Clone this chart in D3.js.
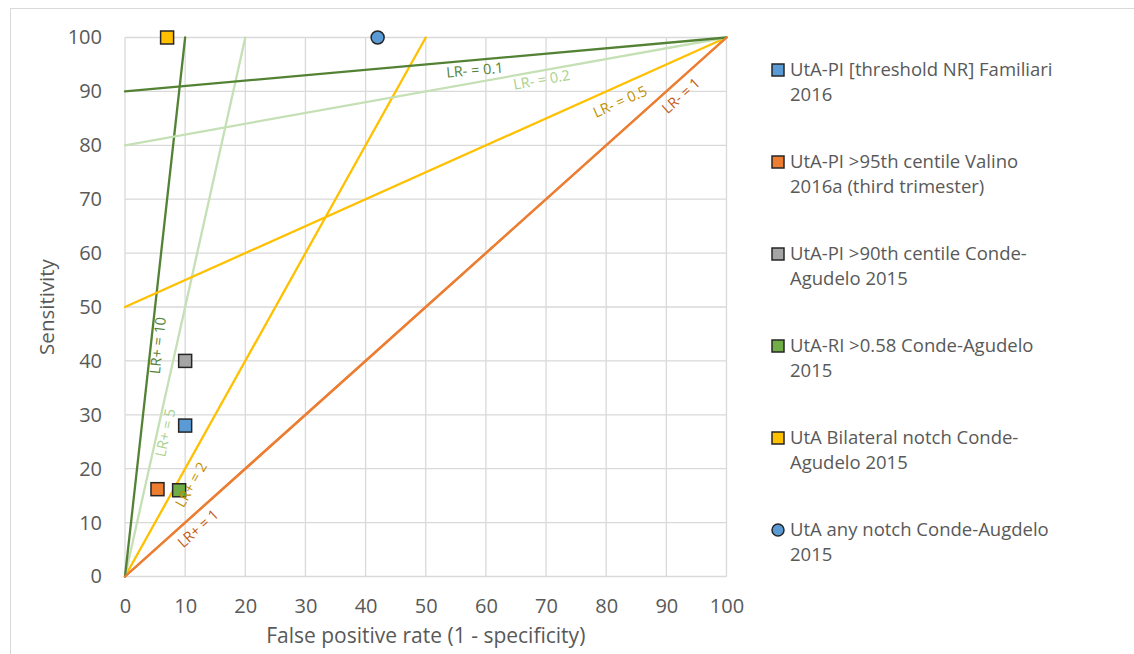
<!DOCTYPE html>
<html>
<head>
<meta charset="utf-8">
<script src="https://cdn.jsdelivr.net/npm/d3@7/dist/d3.min.js"></script>
<style>
  html, body { margin: 0; padding: 0; background: #fff; }
  svg { display: block; }
  text { font-family: "Open Sans", Lato, sans-serif; fill: #595959; }
</style>
</head>
<body>
<svg id="chart" width="1134" height="654"></svg>
<script>
// Axis ticks
const xTicks = [0, 10, 20, 30, 40, 50, 60, 70, 80, 90, 100];
const yTicks = [0, 10, 20, 30, 40, 50, 60, 70, 80, 90, 100];

// Reference lines of constant likelihood ratio: [x, y] end points in % units
const lrNames  = ["LR+ = 1", "LR+ = 2", "LR+ = 5", "LR+ = 10", "LR- = 0.5", "LR- = 0.2", "LR- = 0.1", "LR- = 1"];
const lrStarts = [[0, 0], [0, 0], [0, 0], [0, 0], [0, 50], [0, 80], [0, 90], [0, 0]];
const lrEnds   = [[100, 100], [50, 100], [20, 100], [10, 100], [100, 100], [100, 100], [100, 100], [100, 100]];

// Test accuracy estimates: false positive rate (%) and sensitivity (%)
const studyNames = [
  ["UtA-PI [threshold NR] Familiari", "2016"],
  ["UtA-PI >95th centile Valino", "2016a (third trimester)"],
  ["UtA-PI >90th centile Conde-", "Agudelo 2015"],
  ["UtA-RI >0.58 Conde-Agudelo", "2015"],
  ["UtA Bilateral notch Conde-", "Agudelo 2015"],
  ["UtA any notch Conde-Augdelo", "2015"]
];
const studyFPR  = [10, 5.4, 10, 9, 7, 42];
const studySens = [28, 16.2, 40, 16, 100, 100];

// Styling
const lineColors  = ["#ED7D31", "#FFC000", "#C5E0B4", "#548235", "#FFC000", "#C5E0B4", "#548235", "#ED7D31"];
const labelColors = ["#C55A11", "#BF9000", "#A9D18E", "#548235", "#BF9000", "#A9D18E", "#548235", "#C55A11"];
// label anchor: position along the line (0..1) and offset perpendicular to it (px, below the line)
const labelAlong  = [0.107, 0.182, 0.27, 0.43, 0.813, 0.69, 0.58, 0.91];
const labelOffset = [13, 13, 8, 7, 15, 9, 10, 13];
const markerFill  = ["#5B9BD5", "#ED7D31", "#A5A5A5", "#70AD47", "#FFC000", "#5B9BD5"];
const markerShape = ["square", "square", "square", "square", "square", "circle"];

const svg = d3.select("#chart");

// Outer chart frame
svg.append("rect")
  .attr("x", 10.5).attr("y", 8.5)
  .attr("width", 1200).attr("height", 700)
  .attr("fill", "none").attr("stroke", "#D9D9D9").attr("stroke-width", 1);

const x = d3.scaleLinear().domain([0, 100]).range([125, 726.5]);
const y = d3.scaleLinear().domain([0, 100]).range([576.5, 37.5]);

// Gridlines
const grid = svg.append("g");
grid.selectAll("line.v").data(xTicks).join("line")
  .attr("x1", d => x(d)).attr("x2", d => x(d))
  .attr("y1", y(0)).attr("y2", y(100))
  .attr("stroke", "#D9D9D9").attr("stroke-width", 1.3);
grid.selectAll("line.h").data(yTicks).join("line")
  .attr("x1", x(0)).attr("x2", x(100))
  .attr("y1", d => y(d)).attr("y2", d => y(d))
  .attr("stroke", "#D9D9D9").attr("stroke-width", 1.3);

// Axes (labels only; the gridlines frame the plot)
const xAxis = svg.append("g").attr("transform", `translate(0,${y(0)})`)
  .call(d3.axisBottom(x).tickValues(xTicks).tickSize(0).tickPadding(22));
const yAxis = svg.append("g").attr("transform", `translate(${x(0)},0)`)
  .call(d3.axisLeft(y).tickValues(yTicks).tickSize(0).tickPadding(23));
[xAxis, yAxis].forEach(a => {
  a.select(".domain").remove();
  a.selectAll("text").style("font-size", "20px").attr("fill", "#595959")
    .style("font-family", "'Open Sans', Lato, sans-serif");
});

// Axis titles
svg.append("text")
  .attr("x", (x(0) + x(100)) / 2).attr("y", 643)
  .attr("text-anchor", "middle").style("font-size", "21px")
  .text("False positive rate (1 - specificity)");
svg.append("text")
  .attr("transform", `translate(54,${(y(0) + y(100)) / 2}) rotate(-90)`)
  .attr("text-anchor", "middle").style("font-size", "20.5px")
  .text("Sensitivity");

// Likelihood ratio lines
const lrData = lrNames.map((n, i) => ({ name: n, a: lrStarts[i], b: lrEnds[i], i }));
svg.append("g").selectAll("line").data(lrData).join("line")
  .attr("x1", d => x(d.a[0])).attr("y1", d => y(d.a[1]))
  .attr("x2", d => x(d.b[0])).attr("y2", d => y(d.b[1]))
  .attr("stroke", d => lineColors[d.i]).attr("stroke-width", 2.3)
  .attr("stroke-linecap", "round");

// Study markers
const pts = studyNames.map((n, i) => ({ fpr: studyFPR[i], sens: studySens[i], i }));
const mk = svg.append("g");
mk.selectAll("rect").data(pts.filter(d => markerShape[d.i] === "square")).join("rect")
  .attr("x", d => x(d.fpr) - 6.5).attr("y", d => y(d.sens) - 6.5)
  .attr("width", 13).attr("height", 13)
  .attr("fill", d => markerFill[d.i]).attr("stroke", "#262626").attr("stroke-width", 1.5);
mk.selectAll("circle").data(pts.filter(d => markerShape[d.i] === "circle")).join("circle")
  .attr("cx", d => x(d.fpr)).attr("cy", d => y(d.sens)).attr("r", 6.5)
  .attr("fill", d => markerFill[d.i]).attr("stroke", "#262626").attr("stroke-width", 1.5);

// Line labels, rotated along each line
svg.append("g").selectAll("text").data(lrData).join("text")
  .each(function (d) {
    const x1 = x(d.a[0]), y1 = y(d.a[1]), x2 = x(d.b[0]), y2 = y(d.b[1]);
    const t = labelAlong[d.i];
    const px = x1 + (x2 - x1) * t, py = y1 + (y2 - y1) * t;
    const ang = Math.atan2(y2 - y1, x2 - x1);
    // unit normal pointing below/right of the line
    const len = Math.hypot(x2 - x1, y2 - y1);
    const nx = -(y2 - y1) / len, ny = (x2 - x1) / len;
    const off = labelOffset[d.i];
    const cx = px + nx * off, cy = py + ny * off;
    d3.select(this)
      .attr("transform", `translate(${cx},${cy}) rotate(${ang * 180 / Math.PI})`)
      .attr("text-anchor", "middle").attr("dy", "0.35em")
      .style("font-size", "14.5px").style("fill", labelColors[d.i])
      .text(d.name);
  });

// Legend
const lg = svg.append("g").attr("transform", "translate(772,0)");
const legendTop = [70, 162, 254, 346, 438, 530];
studyNames.forEach((lines, i) => {
  const g = lg.append("g").attr("transform", `translate(0,${legendTop[i]})`);
  if (markerShape[i] === "circle") {
    g.append("circle").attr("cx", 6).attr("cy", 0).attr("r", 6)
      .attr("fill", markerFill[i]).attr("stroke", "#262626").attr("stroke-width", 1.5);
  } else {
    g.append("rect").attr("x", 0).attr("y", -6).attr("width", 12).attr("height", 12)
      .attr("fill", markerFill[i]).attr("stroke", "#262626").attr("stroke-width", 1.5);
  }
  lines.forEach((s, k) => {
    g.append("text").attr("x", 18).attr("y", k * 25).attr("dy", "0.35em")
      .style("font-size", "18.5px").text(s);
  });
});
</script>
</body>
</html>
